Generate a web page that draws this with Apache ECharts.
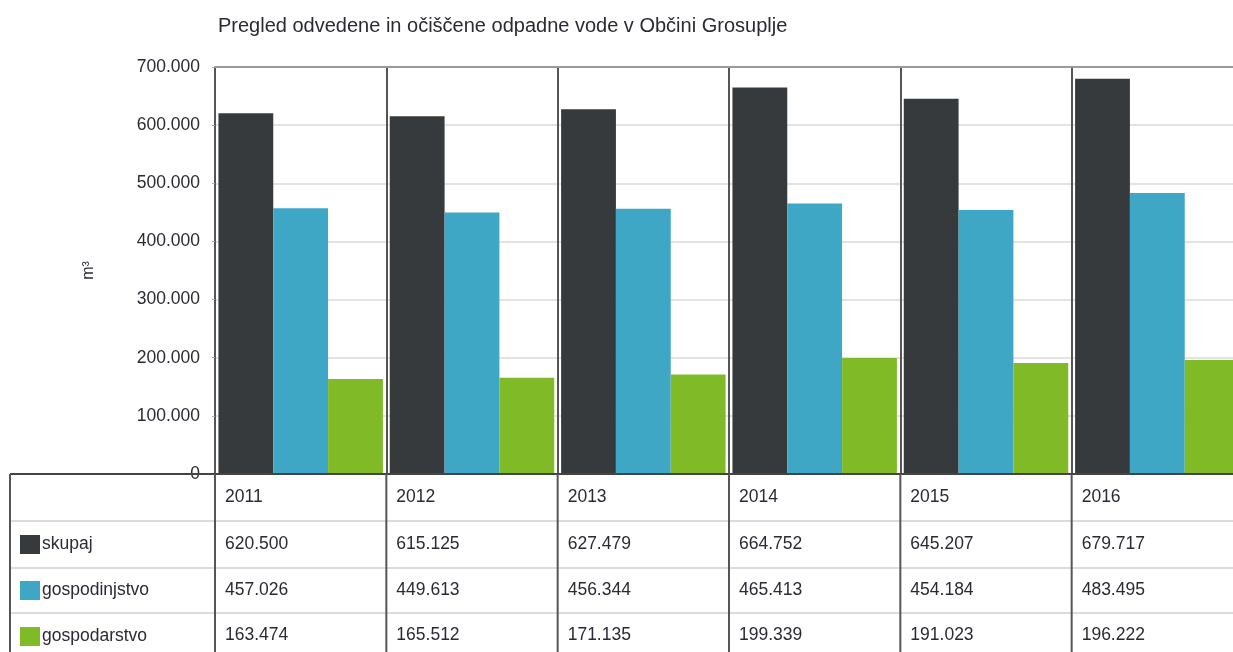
<!DOCTYPE html>
<html><head><meta charset="utf-8">
<script src="https://cdn.jsdelivr.net/npm/echarts@6/dist/echarts.min.js"></script>
<style>html,body{margin:0;padding:0;background:#fff;overflow:hidden}#c{width:1233px;height:652px}</style>
</head><body><div id="c"></div>
<script>
const titleText = 'Pregled odvedene in očiščene odpadne vode v Občini Grosuplje';
const years = ['2011', '2012', '2013', '2014', '2015', '2016'];
const seriesNames = ['skupaj', 'gospodinjstvo', 'gospodarstvo'];
const skupaj = [620500, 615125, 627479, 664752, 645207, 679717];
const gospodinjstvo = [457026, 449613, 456344, 465413, 454184, 483495];
const gospodarstvo = [163474, 165512, 171135, 199339, 191023, 196222];
const yMin = 0, yMax = 700000, yStep = 100000;
const unitName = 'm³';

const colors = ['#373a3c', '#3fa7c6', '#80ba27'];
const FONT = '"Liberation Sans", Arial, sans-serif';
const TXT = '#2a2a36';
const FS = 17.5;
const seriesData = [skupaj, gospodinjstvo, gospodarstvo];

function fmt(v) { return String(v).replace(/\B(?=(\d{3})+(?!\d))/g, '.'); }

const chart = echarts.init(document.getElementById('c'), null, { renderer: 'canvas' });
const gridLeft = 215, gridTop = 67, gridBottom = 178, gridRight = -10;
const option = {
  animation: false,
  color: colors,
  textStyle: { fontFamily: FONT },
  title: {
    text: titleText, left: 213, top: 11,
    textStyle: { fontFamily: FONT, fontSize: 20, fontWeight: 'normal', color: TXT }
  },
  grid: { left: gridLeft, right: gridRight, top: gridTop, bottom: gridBottom, containLabel: false, outerBoundsMode: 'none' },
  legend: {
    orient: 'vertical', left: 20, top: 535, itemWidth: 20, itemHeight: 19, itemGap: 27, padding: 0,
    icon: 'rect', selectedMode: false, data: seriesNames,
    textStyle: { fontFamily: FONT, fontSize: FS, color: TXT, padding: [0, 0, 0, -3] }
  },
  xAxis: [{
    type: 'category', data: years, position: 'bottom',
    axisLine: { show: true, lineStyle: { color: '#444', width: 2 } },
    axisTick: { show: false }, axisLabel: { show: false },
    splitLine: { show: true, lineStyle: { color: '#555', width: 2 } }
  }, {
    type: 'category', data: years, position: 'top',
    axisLine: { show: true, lineStyle: { color: '#999', width: 2 } },
    axisTick: { show: false }, axisLabel: { show: false }, splitLine: { show: false }
  }],
  yAxis: {
    type: 'value', min: yMin, max: yMax, interval: yStep,
    name: unitName, nameLocation: 'middle', nameGap: 118, nameRotate: 90,
    nameTextStyle: { fontFamily: FONT, fontSize: 16, color: TXT },
    axisLine: { show: false },
    axisTick: { show: true, length: 3, lineStyle: { color: '#aaa' } },
    axisLabel: { fontFamily: FONT, fontSize: FS, color: TXT, margin: 15, formatter: fmt },
    splitLine: { show: true, lineStyle: { color: '#e3e3e3', width: 2 } }
  },
  series: seriesNames.map((n, i) => ({
    name: n, type: 'bar', data: seriesData[i], xAxisIndex: 0,
    barGap: '0%', barCategoryGap: '4%',
    itemStyle: { color: colors[i] }
  }))
};
chart.setOption(option);

// data table under the plot, aligned with the category axis
const c0 = chart.convertToPixel({ xAxisIndex: 0 }, years[0]);
const c1 = chart.convertToPixel({ xAxisIndex: 0 }, years[1]);
const bw = c1 - c0;
const tableTop = 652 - gridBottom;
const rowEdges = [tableTop, 521, 568, 613, 660];
const tableLeft = 10, tableRight = 1233;
const g = [];
g.push({ type: 'line', shape: { x1: tableLeft, y1: tableTop, x2: tableRight, y2: tableTop }, style: { stroke: '#444', lineWidth: 2 }, z: 10 });
for (let r = 1; r < rowEdges.length - 1; r++) {
  g.push({ type: 'line', shape: { x1: tableLeft, y1: rowEdges[r], x2: tableRight, y2: rowEdges[r] }, style: { stroke: '#dcdcdc', lineWidth: 2 } });
}
g.push({ type: 'line', shape: { x1: tableLeft, y1: tableTop, x2: tableLeft, y2: 660 }, style: { stroke: '#555', lineWidth: 2 }, z: 10 });
for (let i = 0; i <= years.length; i++) {
  const x = c0 - bw / 2 + i * bw;
  g.push({ type: 'line', shape: { x1: x, y1: tableTop, x2: x, y2: 660 }, style: { stroke: '#555', lineWidth: 2 }, z: 10 });
}
const rowsText = [years].concat(seriesData.map(arr => arr.map(fmt)));
rowsText.forEach((row, r) => {
  const yc = (rowEdges[r] + rowEdges[r + 1]) / 2 + (r === 3 ? -1 : 0);
  row.forEach((t, i) => {
    const x = c0 - bw / 2 + i * bw + 10;
    g.push({ type: 'text', x: x, y: yc, style: { text: t, fill: TXT, font: FS + 'px ' + FONT, verticalAlign: 'middle' }, z: 10 });
  });
});
chart.setOption({ graphic: g });
</script>
</body></html>
